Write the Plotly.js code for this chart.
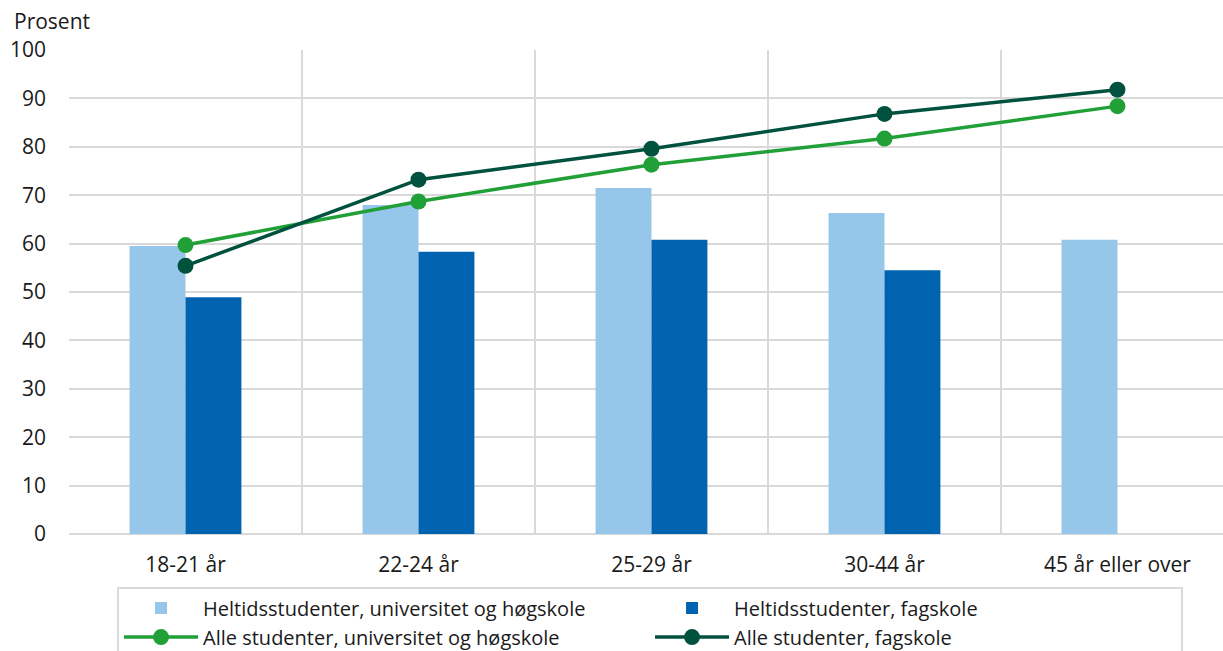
<!DOCTYPE html>
<html><head><meta charset="utf-8">
<script src="https://cdn.plot.ly/plotly-3.0.1.min.js"></script>
<style>html,body{margin:0;padding:0;background:#fff}#chart{width:1223px;height:651px}</style>
</head><body><div id="chart"></div>
<script>
const categories = ["18-21 år", "22-24 år", "25-29 år", "30-44 år", "45 år eller over"];
const heltidUniv = [59.5, 68.0, 71.5, 66.3, 60.8];
const heltidFag = [48.9, 58.3, 60.8, 54.5, null];
const alleUniv = [59.7, 68.7, 76.3, 81.7, 88.4];
const alleFag = [55.4, 73.2, 79.6, 86.8, 91.8];
const seriesNames = ["Heltidsstudenter, universitet og høgskole", "Heltidsstudenter, fagskole", "Alle studenter, universitet og høgskole", "Alle studenter, fagskole"];

const font = "'Open Sans', 'Noto Sans', sans-serif";
const traces = [
  {type:'bar', x:categories, y:heltidUniv, name:seriesNames[0], marker:{color:'#97c6eb'}},
  {type:'bar', x:categories, y:heltidFag, name:seriesNames[1], marker:{color:'#0063af'}},
  {type:'scatter', mode:'lines+markers', x:categories, y:alleUniv, name:seriesNames[2],
   line:{color:'#21a038', width:3.5}, marker:{color:'#21a038', size:16}},
  {type:'scatter', mode:'lines+markers', x:categories, y:alleFag, name:seriesNames[3],
   line:{color:'#00523f', width:3.5}, marker:{color:'#00523f', size:16}}
];
const layout = {
  width:1223, height:651,
  margin:{l:69, r:0, t:50, b:117},
  paper_bgcolor:'#fff', plot_bgcolor:'#fff',
  font:{family:font, size:21, color:'#1a1a1a'},
  barmode:'group', bargap:0.52, bargroupgap:0,
  showlegend:true,
  xaxis:{type:'category', range:[-0.5, 4.453], tickson:'boundaries', showgrid:true,
    gridcolor:'#d9d9d9', gridwidth:2, ticks:'', ticklabelstandoff:16,
    showline:false, zeroline:false, fixedrange:true},
  yaxis:{range:[0,100], dtick:10, showgrid:true, gridcolor:'#d9d9d9', gridwidth:2,
    zeroline:true, zerolinecolor:'#d9d9d9', zerolinewidth:2, ticks:'', ticklabelstandoff:22,
    showline:false, fixedrange:true},
  legend:{orientation:'h', xref:'container', yref:'container', x:0.0957, y:0.099, xanchor:'left', yanchor:'top',
    entrywidth:442, entrywidthmode:'pixels', bordercolor:'#d9d9d9', borderwidth:2,
    font:{family:font, size:20, color:'#1a1a1a'}, traceorder:'normal', tracegroupgap:0, itemwidth:74},
  annotations:[{text:'Prosent', xref:'paper', yref:'paper', x:0, y:1, xshift:-57, yshift:29,
    xanchor:'left', yanchor:'middle', showarrow:false, font:{family:font, size:21, color:'#1a1a1a'}}]
};
Plotly.newPlot('chart', traces, layout, {displayModeBar:false, staticPlot:true});
</script></body></html>
